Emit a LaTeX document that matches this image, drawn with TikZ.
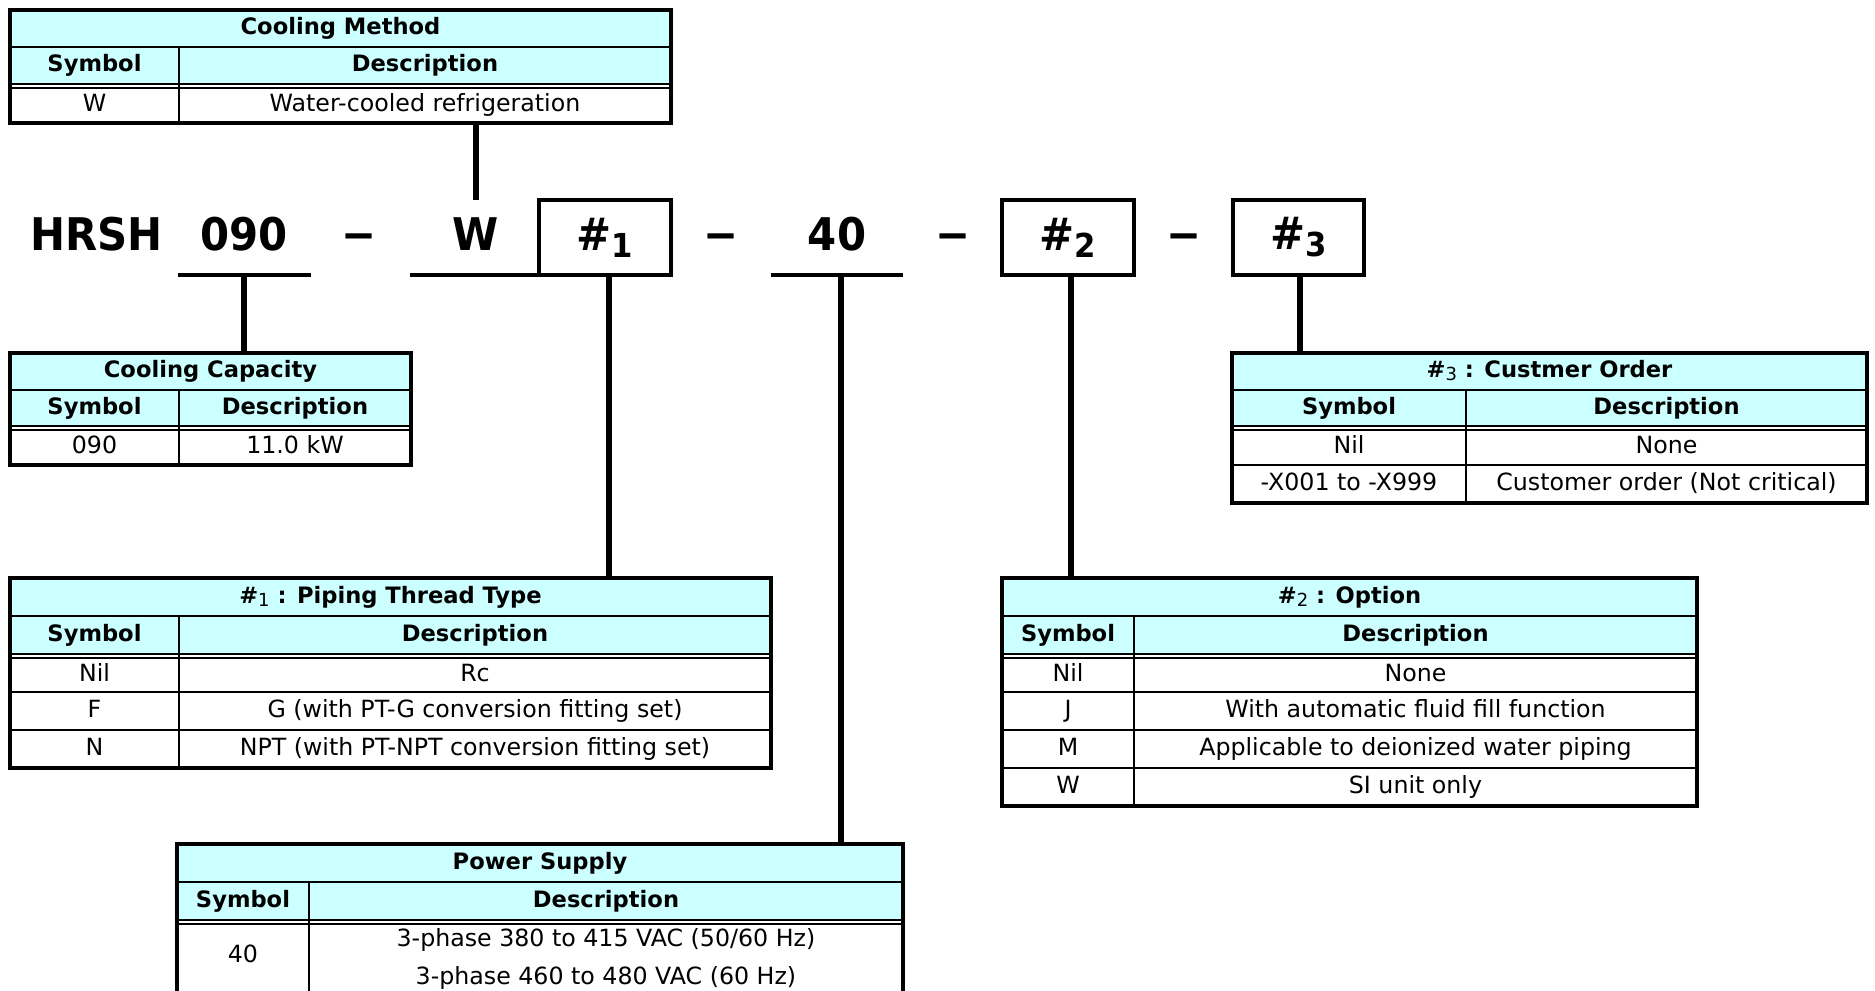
\documentclass[tikz,border=0pt]{standalone}
\usepackage{fontspec}
\setmainfont{DejaVu Sans}
\newfontfamily\codefont{DejaVu Sans}[FakeStretch=0.93]
\definecolor{hdrcyan}{HTML}{CCFFFF}
\newcommand\codef{\codefont\fontsize{45}{50}\selectfont\bfseries}
\newcommand\boldf{\fontsize{22.6}{27}\selectfont\bfseries}
\newcommand\bodyf{\fontsize{23.7}{28}\selectfont}
\newcommand\hsub[1]{\#\raisebox{-3pt}{\fontsize{18}{18}\selectfont\mdseries #1}}
\newcommand\bigsub[1]{\#\raisebox{-7pt}{\fontsize{33}{33}\selectfont #1}}
\newcommand\tgrid[7]{%
  \fill[hdrcyan] (#1,#4) rectangle (#3,#6);
  \draw[tline] (#1,#5) -- (#3,#5) (#1,#6) -- (#3,#6);
  \draw[tline2] (#1,#6+4) -- (#3,#6+4);
  \draw[tline] (#2,#5) -- (#2,#7);
}
\tikzset{
  tframe/.style={draw=black, line width=3.5pt, inner sep=0pt, outer sep=0pt},
  tline/.style={line width=2pt},
  tline2/.style={line width=1.5pt},
  conn/.style={line width=6pt},
  uline/.style={line width=4pt},
  cbox/.style={draw=black, line width=4pt, inner sep=0pt, outer sep=0pt,
    minimum width=132pt, minimum height=75pt, font=\codef},
  code/.style={inner sep=0pt, font=\codef, anchor=base},
  ttl/.style={inner sep=0pt, text height=17pt, text depth=5pt, font=\boldf},
  hd/.style={ttl},
  cell/.style={inner sep=0pt, text height=17pt, text depth=5pt, font=\bodyf},
}
\begin{document}
\begin{tikzpicture}[x=1pt,y=-1pt]
\useasboundingbox (0,0) rectangle (1875,991);
\clip (0,0) rectangle (1875,991);
\fill[white] (0,0) rectangle (1875,991);

% ---------- tables: fills and inner lines ----------
\tgrid{10}{179}{671}{10}{47}{84}{123}
\tgrid{10}{179}{411}{353}{390}{426}{465}
\tgrid{1232}{1466}{1867}{353}{390}{426}{503}
\draw[tline] (1232,465) -- (1867,465);
\tgrid{10}{179}{771}{578}{616}{654}{768}
\draw[tline] (10,692) -- (771,692) (10,730) -- (771,730);
\tgrid{1002}{1134}{1697}{578}{616}{654}{806}
\draw[tline] (1002,692) -- (1697,692) (1002,730) -- (1697,730) (1002,768) -- (1697,768);
\tgrid{177}{309}{903}{844}{882}{920}{1010}

% ---------- table frames ----------
\node[tframe, minimum width=661pt, minimum height=113pt] (cmT) at (340.5,66.5) {};
\node[tframe, minimum width=401pt, minimum height=112pt] (ccT) at (210.5,409) {};
\node[tframe, minimum width=635pt, minimum height=150pt] (t3T) at (1549.5,428) {};
\node[tframe, minimum width=761pt, minimum height=190pt] (t1T) at (390.5,673) {};
\node[tframe, minimum width=695pt, minimum height=228pt] (t2T) at (1349.5,692) {};
\node[tframe, minimum width=726pt, minimum height=166pt] (psT) at (540,927) {};

% ---------- Cooling Method ----------
\node[ttl] (cm-t) at (340.5,28.5) {Cooling Method};
\node[hd] (cm-s) at (94.5,65.5) {Symbol};
\node[hd] (cm-d) at (425,65.5) {Description};
\node[cell] (cm-1s) at (94.5,105.5) {W};
\node[cell] (cm-1d) at (425,105.5) {Water-cooled refrigeration};

% ---------- Cooling Capacity ----------
\node[ttl] (cc-t) at (210.5,371.5) {Cooling Capacity};
\node[hd] (cc-s) at (94.5,408) {Symbol};
\node[hd] (cc-d) at (295,408) {Description};
\node[cell] (cc-1s) at (94.5,447.5) {090};
\node[cell] (cc-1d) at (295,447.5) {11.0 kW};

% ---------- #3 ----------
\node[ttl] (t3-t) at (1549.5,371.5) {\hsub{3} : Custmer Order};
\node[hd] (t3-s) at (1349,408) {Symbol};
\node[hd] (t3-d) at (1666.5,408) {Description};
\node[cell] (t3-1s) at (1349,447.5) {Nil};
\node[cell] (t3-1d) at (1666.5,447.5) {None};
\node[cell] (t3-2s) at (1349,484) {-X001 to -X999};
\node[cell] (t3-2d) at (1666.5,484) {Customer order (Not critical)};

% ---------- #1 ----------
\node[ttl] (t1-t) at (390.5,597) {\hsub{1} : Piping Thread Type};
\node[hd] (t1-s) at (94.5,635) {Symbol};
\node[hd] (t1-d) at (475,635) {Description};
\node[cell] (t1-1s) at (94.5,675) {Nil};
\node[cell] (t1-1d) at (475,675) {Rc};
\node[cell] (t1-2s) at (94.5,711) {F};
\node[cell] (t1-2d) at (475,711) {G (with PT-G conversion fitting set)};
\node[cell] (t1-3s) at (94.5,749) {N};
\node[cell] (t1-3d) at (475,749) {NPT (with PT-NPT conversion fitting set)};

% ---------- #2 ----------
\node[ttl] (t2-t) at (1349.5,597) {\hsub{2} : Option};
\node[hd] (t2-s) at (1068,635) {Symbol};
\node[hd] (t2-d) at (1415.5,635) {Description};
\node[cell] (t2-1s) at (1068,675) {Nil};
\node[cell] (t2-1d) at (1415.5,675) {None};
\node[cell] (t2-2s) at (1068,711) {J};
\node[cell] (t2-2d) at (1415.5,711) {With automatic fluid fill function};
\node[cell] (t2-3s) at (1068,749) {M};
\node[cell] (t2-3d) at (1415.5,749) {Applicable to deionized water piping};
\node[cell] (t2-4s) at (1068,787) {W};
\node[cell] (t2-4d) at (1415.5,787) {SI unit only};

% ---------- Power Supply ----------
\node[ttl] (ps-t) at (540,863) {Power Supply};
\node[hd] (ps-s) at (243,901) {Symbol};
\node[hd] (ps-d) at (606,901) {Description};
\node[cell] (ps-1s) at (243,956) {40};
\node[cell] (ps-1d) at (606,940) {3-phase 380 to 415 VAC (50/60 Hz)};
\node[cell] (ps-2d) at (606,978) {3-phase 460 to 480 VAC (60 Hz)};

% ---------- model code ----------
\node[code] (hrsh) at (96.5,250) {HRSH};
\node[code] (n090) at (244,250) {090};
\node[code] (d1) at (359,250) {−};
\node[code] (nW) at (476,250) {W};
\node[cbox] (b1) at (605,237.5) {\bigsub{1}};
\node[code] (d2) at (721,250) {−};
\node[code] (n40) at (837,250) {40};
\node[code] (d3) at (953,250) {−};
\node[cbox] (b2) at (1068,237.5) {\bigsub{2}};
\node[code] (d4) at (1184,250) {−};
\node[cbox, minimum width=131pt] (b3) at (1298.5,237.5) {\bigsub{3}};

% underlines
\coordinate (u090) at (244,275);
\coordinate (u40) at (841,275);
\draw[uline] (178,275) -- (311,275);
\draw[uline] (410,275) -- (b1.south west);
\draw[uline] (771,275) -- (903,275);

% connector feet just right of box centres
\coordinate (c1) at ([xshift=4pt]b1.south);
\coordinate (c2) at ([xshift=3pt]b2.south);
\coordinate (c3) at ([xshift=1pt]b3.south);

% ---------- connectors ----------
\draw[conn] (cmT.south -| nW) -- (nW |- b1.north);
\draw[conn] (u090) -- (u090 |- ccT.north);
\draw[conn] (c1) -- (c1 |- t1T.north);
\draw[conn] (u40) -- (u40 |- psT.north);
\draw[conn] (c2) -- (c2 |- t2T.north);
\draw[conn] (c3) -- (c3 |- t3T.north);
\end{tikzpicture}
\end{document}
